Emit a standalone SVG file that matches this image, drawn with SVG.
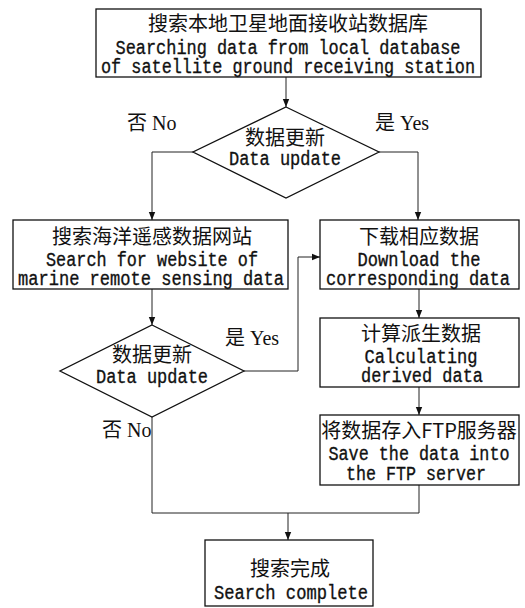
<svg xmlns="http://www.w3.org/2000/svg" width="525" height="608" viewBox="0 0 525 608">
  <style>
    .box { fill: #fff; stroke: #111; stroke-width: 1.3; }
    .line { fill: none; stroke: #222; stroke-width: 1; }
    .cn { font-family: "Noto Sans CJK SC", "Noto Sans", sans-serif; font-size: 20px; fill: #111; text-anchor: middle; }
    .en { font-family: "Liberation Mono", "DejaVu Sans Mono", monospace; font-size: 20px; fill: #111; stroke: #111; stroke-width: 0.35; text-anchor: middle; }
    .lbl { font-family: "Liberation Serif", "Noto Sans CJK SC", serif; font-size: 20px; fill: #111; }
  </style>
  <defs>
    <marker id="arrow" viewBox="0 0 8 8" refX="8" refY="4" markerWidth="8" markerHeight="8" markerUnits="userSpaceOnUse" orient="auto">
      <path d="M0,0.8 L8,4 L0,7.2 z" fill="#111"/>
    </marker>
  </defs>

  <!-- connectors -->
  <g id="connectors">
    <path class="line" d="M286,77 V107" marker-end="url(#arrow)"/>
    <path class="line" d="M193,152 H152 V220" marker-end="url(#arrow)"/>
    <path class="line" d="M379,152 H418 V220" marker-end="url(#arrow)"/>
    <path class="line" d="M152,289 V325" marker-end="url(#arrow)"/>
    <path class="line" d="M244,371 H298 V257 H320" marker-end="url(#arrow)"/>
    <path class="line" d="M419,289 V318" marker-end="url(#arrow)"/>
    <path class="line" d="M419,387 V415" marker-end="url(#arrow)"/>
    <path class="line" d="M419,485 V513 H152"/>
    <path class="line" d="M152,417 V513"/>
    <path class="line" d="M288,513 V540" marker-end="url(#arrow)"/>
  </g>

  <!-- branch labels -->
  <g id="labels">
    <text class="lbl" x="127" y="130">否 No</text>
    <text class="lbl" x="375" y="130">是 Yes</text>
    <text class="lbl" x="225" y="345">是 Yes</text>
    <text class="lbl" x="102" y="437">否 No</text>
  </g>

  <g id="local-search">
    <rect class="box" x="96" y="9" width="385" height="68"/>
    <text class="cn" x="288" y="31" font-size="21">搜索本地卫星地面接收站数据库</text>
    <text class="en" x="288" y="54" textLength="345" lengthAdjust="spacingAndGlyphs">Searching data from local database</text>
    <text class="en" x="288" y="73" textLength="374" lengthAdjust="spacingAndGlyphs">of satellite ground receiving station</text>
  </g>

  <g id="update-check-1">
    <polygon class="box" points="286,107 379,152 286,198 193,152"/>
    <text class="cn" x="285" y="145">数据更新</text>
    <text class="en" x="285" y="165" textLength="112" lengthAdjust="spacingAndGlyphs">Data update</text>
  </g>

  <g id="website-search">
    <rect class="box" x="13" y="220" width="275" height="69"/>
    <text class="cn" x="152" y="244" font-size="21">搜索海洋遥感数据网站</text>
    <text class="en" x="152" y="266" textLength="212" lengthAdjust="spacingAndGlyphs">Search for website of</text>
    <text class="en" x="151" y="285" textLength="266" lengthAdjust="spacingAndGlyphs">marine remote sensing data</text>
  </g>

  <g id="download">
    <rect class="box" x="320" y="220" width="199" height="69"/>
    <text class="cn" x="419" y="244" font-size="21">下载相应数据</text>
    <text class="en" x="419" y="266" textLength="123" lengthAdjust="spacingAndGlyphs">Download the</text>
    <text class="en" x="418" y="285" textLength="184" lengthAdjust="spacingAndGlyphs">corresponding data</text>
  </g>

  <g id="update-check-2">
    <polygon class="box" points="152,325 244,371 152,417 60,371"/>
    <text class="cn" x="152" y="362">数据更新</text>
    <text class="en" x="152" y="383" textLength="112" lengthAdjust="spacingAndGlyphs">Data update</text>
  </g>

  <g id="derive">
    <rect class="box" x="320" y="318" width="199" height="69"/>
    <text class="cn" x="421" y="341" font-size="21">计算派生数据</text>
    <text class="en" x="421" y="363" textLength="113" lengthAdjust="spacingAndGlyphs">Calculating</text>
    <text class="en" x="422" y="382" textLength="122" lengthAdjust="spacingAndGlyphs">derived data</text>
  </g>

  <g id="store-ftp">
    <rect class="box" x="320" y="415" width="199" height="70"/>
    <text class="cn" x="419" y="438" font-size="21">将数据存入FTP服务器</text>
    <text class="en" x="419" y="460" textLength="181" lengthAdjust="spacingAndGlyphs">Save the data into</text>
    <text class="en" x="416" y="480" textLength="140" lengthAdjust="spacingAndGlyphs">the FTP server</text>
  </g>

  <g id="done">
    <rect class="box" x="205" y="540" width="168" height="66"/>
    <text class="cn" x="290" y="576" font-size="21">搜索完成</text>
    <text class="en" x="291" y="599" textLength="154" lengthAdjust="spacingAndGlyphs">Search complete</text>
  </g>
</svg>
